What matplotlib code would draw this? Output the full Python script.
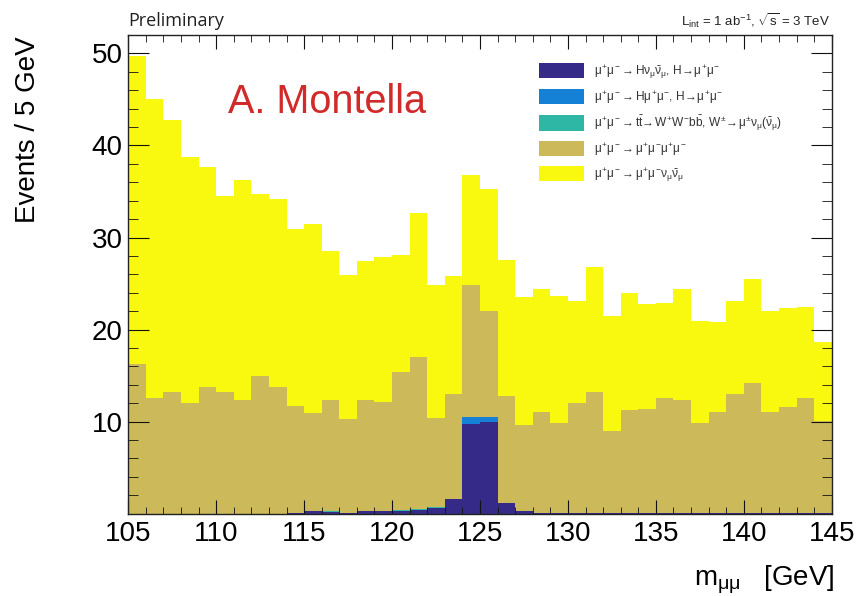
import numpy as np
import matplotlib
matplotlib.use("Agg")
import matplotlib.pyplot as plt
from matplotlib.ticker import MultipleLocator

plt.rcParams['font.family'] = ['Liberation Sans', 'DejaVu Sans']
plt.rcParams['mathtext.fontset'] = 'custom'
plt.rcParams['mathtext.rm'] = 'Liberation Sans'
plt.rcParams['mathtext.it'] = 'Liberation Sans'
plt.rcParams['mathtext.bf'] = 'Liberation Sans:bold'

# 1 GeV bins from 105 to 145 GeV
bin_edges = np.arange(105, 146, 1)

# Events per bin for each process (stacked bottom to top)
h_nunu = [0.02] * 9 + [0.05, 0.25, 0.20, 0.10, 0.25, 0.25, 0.33, 0.45, 0.65,
                       1.60, 9.75, 9.95, 1.15, 0.25] + [0.03] * 17
h_mumu = [0.0] * 18 + [0.05, 0.70, 0.55, 0.03] + [0.0] * 18
ttbar = [0.0] * 11 + [0.10, 0.0, 0.0, 0.0, 0.10, 0.05, 0.03, 0.0, 0.05, 0.05] + [0.0] * 19
mu4 = [16.23, 12.53, 13.18, 11.98, 13.73, 13.23, 12.28, 14.98, 13.73, 11.65,
       10.65, 12.10, 10.15, 12.15, 11.90, 14.92, 16.55, 9.67, 11.30, 14.30,
       11.45, 11.62, 9.40, 10.97, 9.77, 11.97, 13.22, 8.97, 11.22, 11.37,
       12.52, 12.27, 9.77, 10.97, 12.92, 14.12, 10.97, 11.57, 12.52, 10.07]
mumununu = [33.45, 32.45, 29.60, 26.70, 23.95, 21.25, 23.95, 19.70, 20.45, 19.20,
            20.55, 16.15, 15.65, 15.10, 15.75, 12.75, 15.65, 14.45, 12.85, 12.00,
            13.30, 14.80, 13.85, 13.40, 13.80, 11.15, 13.50, 12.50, 12.70, 11.35,
            10.30, 12.10, 11.15, 9.80, 10.20, 11.35, 11.00, 10.70, 9.90, 8.50]

labels = [
    r'$\mu^{+}\mu^{-}\rightarrow H\nu_{\mu}\bar{\nu}_{\mu}$, $H\!\rightarrow\!\mu^{+}\mu^{-}$',
    r'$\mu^{+}\mu^{-}\rightarrow H\mu^{+}\mu^{-}$, $H\!\rightarrow\!\mu^{+}\mu^{-}$',
    r'$\mu^{+}\mu^{-}\rightarrow t\bar{t}\!\rightarrow\!W^{+}W^{-}b\bar{b}$, '
    r'$W^{\pm}\!\rightarrow\!\mu^{\pm}\nu_{\mu}(\bar{\nu}_{\mu})$',
    r'$\mu^{+}\mu^{-}\rightarrow\mu^{+}\mu^{-}\mu^{+}\mu^{-}$',
    r'$\mu^{+}\mu^{-}\rightarrow\mu^{+}\mu^{-}\nu_{\mu}\bar{\nu}_{\mu}$',
]
colors = ['#352a87', '#1481d6', '#2eb7a4', '#ccba5a', '#f9f90f']

fig = plt.figure(figsize=(8.57, 5.96), dpi=100)
ax = fig.add_axes([0.1497, 0.1381, 0.8208, 0.8032])

stack = [h_nunu, h_mumu, ttbar, mu4, mumununu]
base = np.zeros(len(bin_edges) - 1)
handles = []
for vals, col, lab in zip(stack, colors, labels):
    top = base + np.asarray(vals)
    h = ax.stairs(top, bin_edges, baseline=base, fill=True, color=col,
                  linewidth=0, label=lab)
    handles.append(h)
    base = top

ax.set_xlim(105, 145)
ax.set_ylim(0, 52)
ax.xaxis.set_major_locator(MultipleLocator(5))
ax.xaxis.set_minor_locator(MultipleLocator(1))
ax.set_yticks([10, 20, 30, 40, 50])
ax.yaxis.set_minor_locator(MultipleLocator(2))
ax.tick_params(which='both', direction='in', top=True, right=True,
               labelsize=20, color='#111111')
ax.tick_params(axis='x', which='major', length=10, pad=5)
ax.tick_params(axis='x', which='minor', length=5)
ax.tick_params(axis='y', which='major', length=15, pad=4)
ax.tick_params(axis='y', which='minor', length=7.5)
for sp in ax.spines.values():
    sp.set_linewidth(1.0)
    sp.set_color('#222222')
    sp.set_zorder(5)

leg = fig.legend(handles=handles, loc='upper left',
                 bbox_to_anchor=(539 / 857, 1 - 63 / 596), frameon=False,
                 fontsize=8.6, handlelength=3.77, handleheight=1.59,
                 labelspacing=0.67, handletextpad=0.84, borderpad=0,
                 borderaxespad=0)
for t in leg.get_texts():
    t.set_color('#333333')

fig.text(28 / 857, 1 - 36 / 596, 'Events / 5 GeV', rotation=90,
         ha='center', va='top', fontsize=20)
fig.text(835 / 857, 1 - 585 / 596, r'm$_{\mu\mu}$   [GeV]', ha='right',
         va='baseline', fontsize=20)
fig.text(128 / 857, 1 - 26 / 596, 'Preliminary', ha='left', va='baseline',
         fontsize=13, family=['Open Sans', 'DejaVu Sans'], color='#222222')
fig.text(830 / 857, 1 - 26 / 596,
         r'L$_{\mathregular{int}}$ = 1 ab$^{-1}$, $\sqrt{\mathregular{s}}$ = 3 TeV',
         ha='right', va='baseline', fontsize=9.5,
         family=['Liberation Sans Narrow', 'Liberation Sans'], color='#222222')
fig.text(228 / 857, 1 - 113 / 596, 'A. Montella', ha='left', va='baseline',
         fontsize=28.5, color='#d12a2a')

fig.savefig('out.png', dpi=100)
